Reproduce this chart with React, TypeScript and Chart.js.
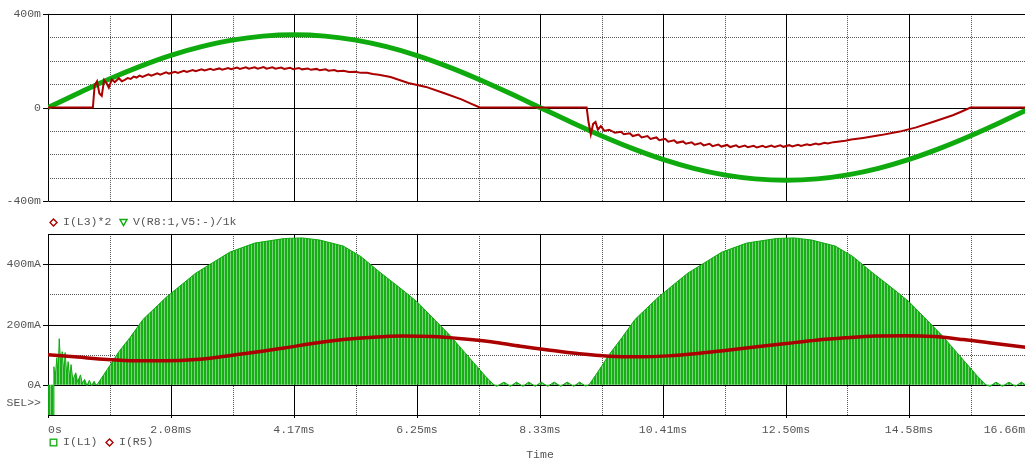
import React, { useEffect, useRef } from "react";
import { Chart, registerables } from "chart.js";
Chart.register(...registerables);

// ---------- shared axis data ----------
const X_MAX = 16.66;
const X_TICKS = [0, 2.0825, 4.165, 6.2475, 8.33, 10.4125, 12.495, 14.5775, 16.66];
const X_TICK_LABELS = ["0s", "2.08ms", "4.17ms", "6.25ms", "8.33ms", "10.41ms", "12.50ms", "14.58ms", "16.66ms"];
const X_AXIS_TITLE = "Time";

// ---------- top panel ----------
const TOP_Y_MIN = -400;
const TOP_Y_MAX = 400;
const TOP_Y_TICKS = [-400, 0, 400];
const TOP_Y_LABELS = ["-400m", "0", "400m"];
const TOP_Y_MINOR = [-300, -200, -100, 100, 200, 300];
const TOP_LEGEND = ["I(L3)*2", "V(R8:1,V5:-)/1k"];

const V_TIME = [0, 0.52, 1.04, 1.56, 2.08, 2.6, 3.12, 3.64, 4.17, 4.69, 5.21, 5.73, 6.25, 6.77, 7.29, 7.81, 8.33,
  8.85, 9.37, 9.89, 10.41, 10.93, 11.45, 11.97, 12.5, 13.02, 13.54, 14.06, 14.58, 15.1, 15.62, 16.14, 16.66];
const V_VALUES = [0, 62, 122, 176, 223, 260, 288, 305, 311, 305, 288, 260, 222, 175, 121, 62, 0,
  -62, -121, -175, -222, -260, -288, -305, -311, -305, -288, -260, -222, -175, -121, -62, 0];

const IL3_TIME = [0, 0.76, 0.79, 0.83, 0.87, 0.91, 0.95, 0.99, 1.03, 1.08, 1.13, 1.2, 1.25, 1.3, 1.35, 1.4, 1.45,
  1.5, 1.55, 1.6, 1.7, 1.75, 1.85, 1.9, 2.0, 2.05, 2.15, 2.2, 2.3, 2.35, 2.45, 2.5, 2.6, 2.65, 2.75, 2.8, 2.9, 2.95,
  3.05, 3.1, 3.2, 3.25, 3.35, 3.4, 3.5, 3.55, 3.65, 3.7, 3.8, 3.85, 3.95, 4.0, 4.1, 4.15, 4.25, 4.3, 4.4, 4.45,
  4.55, 4.6, 4.7, 4.75, 4.85, 4.9, 5.0, 5.1, 5.2, 5.3, 5.4, 5.5, 5.6, 5.8, 6.1, 6.4, 6.7, 7.0, 7.15, 7.31,
  9.12, 9.15, 9.19, 9.23, 9.27, 9.31, 9.36, 9.42, 9.5, 9.6, 9.7, 9.75, 9.85, 9.9, 10.0, 10.05, 10.15, 10.2, 10.3,
  10.35, 10.45, 10.5, 10.6, 10.65, 10.75, 10.8, 10.9, 10.95, 11.05, 11.1, 11.2, 11.25, 11.35, 11.4, 11.5, 11.55,
  11.65, 11.7, 11.8, 11.85, 11.95, 12.0, 12.1, 12.15, 12.25, 12.3, 12.4, 12.45, 12.55, 12.6, 12.7, 12.75, 12.85,
  12.9, 13.0, 13.05, 13.15, 13.2, 13.3, 13.4, 13.5, 13.6, 13.8, 14.1, 14.42, 14.7, 14.98, 15.32, 15.46, 15.62, 16.66];
const IL3_VALUES = [0, 0, 95, 112, 60, 50, 118, 105, 85, 120, 108, 125, 112, 118, 126, 122, 132,
  128, 136, 131, 142, 136, 146, 140, 150, 145, 153, 148, 157, 152, 160, 155, 163, 158, 165, 160, 167, 162,
  169, 164, 171, 165, 172, 166, 172, 166, 173, 166, 172, 166, 171, 165, 170, 164, 169, 163, 167, 161,
  165, 159, 163, 157, 160, 155, 157, 152, 153, 148, 148, 143, 140, 130, 105, 88, 62, 35, 18, 0,
  0, -60, -115, -70, -62, -95, -80, -100, -95, -108, -104, -114, -110, -122, -116, -128, -122, -134, -128,
  -140, -134, -146, -140, -151, -145, -155, -149, -159, -152, -162, -155, -165, -158, -167, -160, -169,
  -162, -170, -163, -170, -164, -171, -164, -170, -163, -169, -162, -168, -161, -166, -159, -164, -157,
  -161, -154, -158, -151, -154, -148, -145, -142, -137, -130, -118, -103, -85, -62, -33, -18, 0, 0];

// ---------- bottom panel ----------
const BOT_Y_MIN = -100;
const BOT_Y_MAX = 500;
const BOT_Y_TICKS = [-60, 0, 200, 400];
const BOT_Y_LABELS = ["SEL>>", "0A", "200mA", "400mA"];
const BOT_Y_MAJOR = [0, 200, 400];
const BOT_Y_MINOR = [100, 300];
const BOT_LEGEND = ["I(L1)", "I(R5)"];

const IL1_TIME = [0, 0.02, 0.085, 0.1, 0.12, 0.15, 0.17, 0.19, 0.22, 0.24, 0.27, 0.29, 0.32, 0.34, 0.37, 0.39, 0.42,
  0.47, 0.5, 0.55, 0.58, 0.62, 0.66, 0.7, 0.74, 0.78, 0.81,
  0.83, 1.0, 1.2, 1.39, 1.61, 2.0, 2.5, 3.08, 3.5, 4.0, 4.3, 4.6, 5.0, 5.3, 5.62, 6.0, 6.25, 6.5, 6.8, 7.0, 7.2, 7.4, 7.55,
  7.6, 7.72, 7.83, 7.93, 8.04, 8.14, 8.25, 8.35, 8.46, 8.57, 8.68, 8.79, 8.9, 9.0, 9.1, 9.16,
  9.3, 9.5, 9.72, 9.94, 10.33, 10.83, 11.41, 11.83, 12.33, 12.63, 12.93, 13.33, 13.63, 13.95, 14.33, 14.58, 14.83,
  15.13, 15.33, 15.53, 15.73, 15.88,
  15.95, 16.05, 16.16, 16.27, 16.38, 16.48, 16.59, 16.66];
const IL1_VALUES = [0, -250, -250, 60, 20, 90, 30, 153, 50, 110, 35, 107, 25, 77, 20, 67, 15,
  40, 10, 33, 5, 18, -3, 15, -3, 12, 0,
  0, 50, 110, 157, 217, 290, 370, 440, 470, 485, 487, 480, 460, 425, 373, 315, 275, 225, 165, 120, 75, 30, 0,
  -5, 9, -5, 9, -5, 9, -5, 9, -5, 9, -5, 9, -5, 9, -4, 0,
  40, 100, 157, 217, 290, 370, 440, 470, 485, 487, 480, 460, 425, 373, 315, 275, 225,
  165, 120, 75, 30, 0,
  -5, 9, -5, 9, -5, 9, -5, 2];

const IR5_TIME = [0, 0.5, 1.0, 1.5, 2.0, 2.5, 3.0, 3.5, 4.0, 4.5, 5.0, 5.5, 6.0, 6.5, 7.0, 7.5, 8.0, 8.5, 9.0,
  9.5, 10.0, 10.5, 11.0, 11.5, 12.0, 12.5, 13.0, 13.5, 14.0, 14.5, 15.0, 15.5, 16.0, 16.66];
const IR5_VALUES = [100, 92, 84, 80, 80, 84, 95, 108, 122, 138, 150, 158, 162, 160, 153, 143, 128, 115, 103,
  95, 93, 96, 104, 115, 126, 137, 148, 156, 162, 163, 160, 150, 138, 122];

// ---------- styles ----------
const FONT = '"Liberation Mono", "DejaVu Sans Mono", monospace';
const FONT_SIZE = 11.5;
const TEXT_COLOR = "#555";
const RED = "rgb(170,0,0)";
const GREEN = "rgb(14,170,14)";
const FILL_GREEN = "rgb(22,176,22)";
const STRIPE_GREEN = "rgb(125,208,125)";
const CANVAS_W = 1060;
const PLOT_LEFT = 48;
const PLOT_RIGHT = 1032;

const toXY = (xs: number[], ys: number[]) => xs.map((x, i) => ({ x, y: ys[i] }));

function gridPlugin(cfg: { majorY: number[]; minorY: number[]; labeledY: number[]; xTickMarks: boolean }) {
  return {
    id: "pspiceGrid",
    beforeDatasetsDraw(chart: any) {
      const { ctx, chartArea: a, scales } = chart;
      const xs = scales.x;
      const ys = scales.y;
      const px = (v: number) => Math.round(xs.getPixelForValue(v)) + 0.5;
      const py = (v: number) => Math.round(ys.getPixelForValue(v)) + 0.5;
      const minorX: number[] = [];
      for (let i = 0; i < X_TICKS.length - 1; i++) minorX.push((X_TICKS[i] + X_TICKS[i + 1]) / 2);
      ctx.save();
      ctx.lineWidth = 1;
      ctx.strokeStyle = "#555";
      ctx.setLineDash([1, 1]);
      ctx.beginPath();
      for (const v of minorX) { const p = px(v); ctx.moveTo(p, a.top); ctx.lineTo(p, a.bottom); }
      for (const v of cfg.minorY) { const p = py(v); ctx.moveTo(a.left, p); ctx.lineTo(a.right, p); }
      ctx.stroke();
      ctx.setLineDash([]);
      ctx.strokeStyle = "#000";
      ctx.beginPath();
      for (const v of X_TICKS) { const p = px(v); ctx.moveTo(p, a.top); ctx.lineTo(p, a.bottom + (cfg.xTickMarks ? 3 : 0)); }
      for (const v of cfg.majorY) { const p = py(v); ctx.moveTo(a.left, p); ctx.lineTo(a.right, p); }
      const t = Math.round(a.top) + 0.5, b = Math.round(a.bottom) + 0.5, l = Math.round(a.left) + 0.5, r = Math.round(a.right) + 0.5;
      ctx.moveTo(l, t); ctx.lineTo(r, t); ctx.lineTo(r, b); ctx.lineTo(l, b); ctx.closePath();
      for (const v of cfg.labeledY) { const p = py(v); ctx.moveTo(a.left - 5, p); ctx.lineTo(a.left, p); }
      ctx.stroke();
      ctx.restore();
    },
  };
}

const font = { family: FONT, size: FONT_SIZE };

function Marker({ kind, color, cx, cy }: { kind: string; color: string; cx: number; cy: number }) {
  let shape: any;
  if (kind === "diamond") shape = <polygon points="4.5,1 8,4.5 4.5,8 1,4.5" fill="none" stroke={color} strokeWidth={1.4} />;
  else if (kind === "tri") shape = <polygon points="1,1.5 8,1.5 4.5,7.5" fill="none" stroke={color} strokeWidth={1.4} />;
  else shape = <rect x={1.2} y={1.2} width={6.6} height={6.6} fill="none" stroke={color} strokeWidth={1.3} />;
  return (
    <svg width={9} height={9} style={{ position: "absolute", left: cx - 4.5, top: cy - 4.5 }}>
      {shape}
    </svg>
  );
}

function Label({ text, x, cy }: { text: string; x: number; cy: number }) {
  return (
    <span style={{ position: "absolute", left: x, top: cy - 7, lineHeight: "14px", fontFamily: FONT, fontSize: FONT_SIZE, color: TEXT_COLOR, whiteSpace: "pre" }}>
      {text}
    </span>
  );
}

export default function App() {
  const topRef = useRef<HTMLCanvasElement>(null);
  const botRef = useRef<HTMLCanvasElement>(null);

  useEffect(() => {
    const topChart = new Chart(topRef.current!, {
      type: "line",
      data: {
        datasets: [
          { label: TOP_LEGEND[0], data: toXY(IL3_TIME, IL3_VALUES), borderColor: RED, borderWidth: 2, pointRadius: 0, order: 0, tension: 0 },
          { label: TOP_LEGEND[1], data: toXY(V_TIME, V_VALUES), borderColor: GREEN, borderWidth: 5, pointRadius: 0, order: 1, cubicInterpolationMode: "monotone" },
        ],
      } as any,
      options: {
        responsive: false,
        animation: false,
        events: [],
        layout: { padding: { top: 13, right: CANVAS_W - PLOT_RIGHT, left: 0, bottom: 0 } },
        plugins: { legend: { display: false }, tooltip: { enabled: false } },
        scales: {
          x: {
            type: "linear", min: 0, max: X_MAX,
            grid: { display: false, drawTicks: false }, border: { display: false },
            ticks: { display: false },
            afterFit: (s: any) => { s.height = 7; },
          },
          y: {
            type: "linear", min: TOP_Y_MIN, max: TOP_Y_MAX,
            grid: { display: false, drawTicks: false }, border: { display: false },
            ticks: { font, color: TEXT_COLOR, padding: 7, autoSkip: false, callback: (v: any) => TOP_Y_LABELS[TOP_Y_TICKS.indexOf(v)] },
            afterBuildTicks: (s: any) => { s.ticks = TOP_Y_TICKS.map((v) => ({ value: v })); },
            afterFit: (s: any) => { s.width = PLOT_LEFT; },
          },
        },
      } as any,
      plugins: [gridPlugin({ majorY: [0], minorY: TOP_Y_MINOR, labeledY: TOP_Y_TICKS, xTickMarks: false })],
    });

    const botCanvas = botRef.current!;
    const pc = document.createElement("canvas");
    pc.width = 3; pc.height = 1;
    const pctx = pc.getContext("2d")!;
    pctx.fillStyle = FILL_GREEN; pctx.fillRect(0, 0, 3, 1);
    pctx.fillStyle = STRIPE_GREEN; pctx.fillRect(2, 0, 1, 1);
    const pattern = botCanvas.getContext("2d")!.createPattern(pc, "repeat");

    const botChart = new Chart(botCanvas, {
      type: "line",
      data: {
        datasets: [
          { label: BOT_LEGEND[0], data: toXY(IL1_TIME, IL1_VALUES), borderColor: GREEN, borderWidth: 1, pointRadius: 0, order: 1, tension: 0, fill: "origin", backgroundColor: pattern },
          { label: BOT_LEGEND[1], data: toXY(IR5_TIME, IR5_VALUES), borderColor: RED, borderWidth: 3.5, pointRadius: 0, order: 0, cubicInterpolationMode: "monotone" },
        ],
      } as any,
      options: {
        responsive: false,
        animation: false,
        events: [],
        layout: { padding: { top: 14, right: CANVAS_W - PLOT_RIGHT, left: 0, bottom: 0 } },
        plugins: { legend: { display: false }, tooltip: { enabled: false } },
        scales: {
          x: {
            type: "linear", min: 0, max: X_MAX,
            grid: { display: false, drawTicks: false }, border: { display: false },
            ticks: { font, color: TEXT_COLOR, padding: 8, autoSkip: false, maxRotation: 0, align: "inner", callback: (v: any) => X_TICK_LABELS[X_TICKS.indexOf(v)] },
            afterBuildTicks: (s: any) => { s.ticks = X_TICKS.map((v) => ({ value: v })); },
            title: { display: true, text: X_AXIS_TITLE, font, color: TEXT_COLOR, padding: { top: 0, bottom: 0 } },
            afterFit: (s: any) => { s.height = 47; },
          },
          y: {
            type: "linear", min: BOT_Y_MIN, max: BOT_Y_MAX,
            grid: { display: false, drawTicks: false }, border: { display: false },
            ticks: { font, color: TEXT_COLOR, padding: 7, autoSkip: false, callback: (v: any) => BOT_Y_LABELS[BOT_Y_TICKS.indexOf(v)] },
            afterBuildTicks: (s: any) => { s.ticks = BOT_Y_TICKS.map((v) => ({ value: v })); },
            afterFit: (s: any) => { s.width = PLOT_LEFT; },
          },
        },
      } as any,
      plugins: [gridPlugin({ majorY: BOT_Y_MAJOR, minorY: BOT_Y_MINOR, labeledY: BOT_Y_MAJOR, xTickMarks: true })],
    });

    return () => { topChart.destroy(); botChart.destroy(); };
  }, []);

  return (
    <div style={{ position: "absolute", left: 0, top: 0, width: 1025, height: 462, overflow: "hidden", background: "#fff" }}>
      <canvas ref={topRef} width={CANVAS_W} height={215} style={{ position: "absolute", left: 0, top: 0, width: CANVAS_W, height: 215 }} />
      <canvas ref={botRef} width={CANVAS_W} height={242} style={{ position: "absolute", left: 0, top: 220, width: CANVAS_W, height: 242 }} />
      <Marker kind="diamond" color={RED} cx={53} cy={222} />
      <Label text={TOP_LEGEND[0]} x={63} cy={222} />
      <Marker kind="tri" color={GREEN} cx={123.5} cy={222} />
      <Label text={TOP_LEGEND[1]} x={133} cy={222} />
      <Marker kind="square" color={GREEN} cx={53} cy={442} />
      <Label text={BOT_LEGEND[0]} x={63} cy={442} />
      <Marker kind="diamond" color={RED} cx={109.5} cy={442} />
      <Label text={BOT_LEGEND[1]} x={119} cy={442} />
    </div>
  );
}
